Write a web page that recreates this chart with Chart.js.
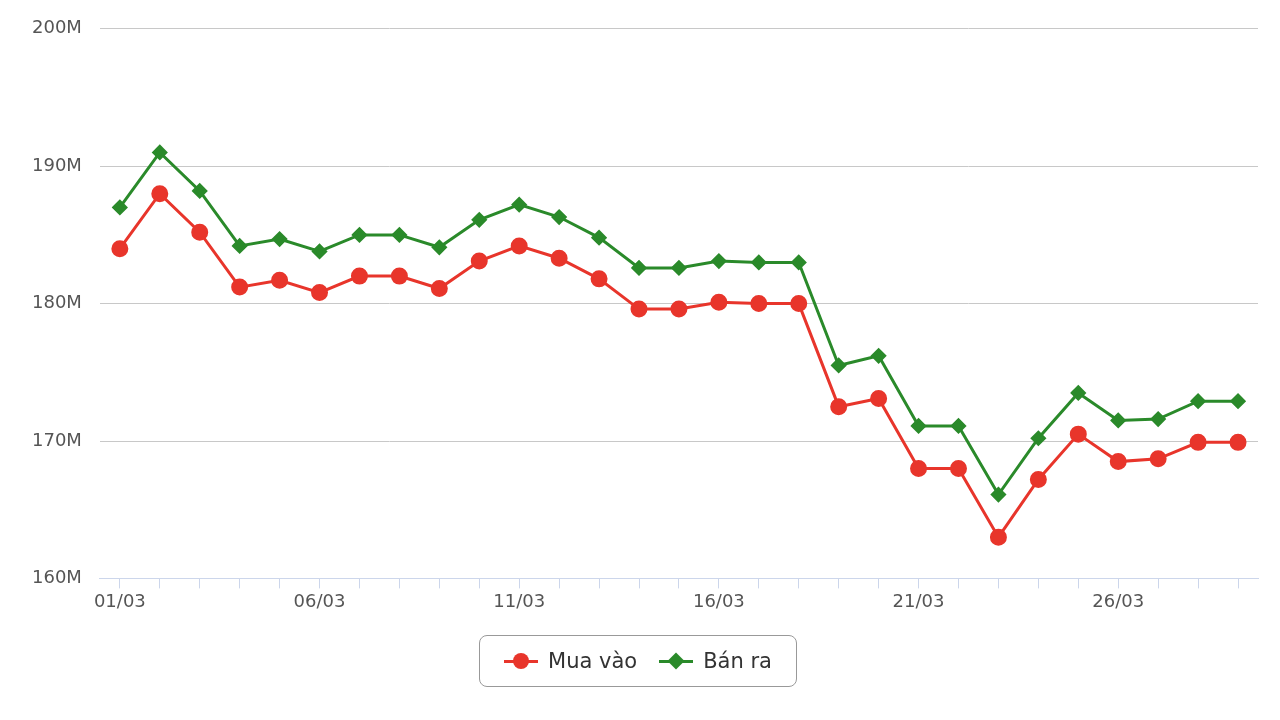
<!DOCTYPE html>
<html><head><meta charset="utf-8">
<script src="https://cdn.jsdelivr.net/npm/chart.js"></script>
<style>body{margin:0;background:#fff;font-family:'DejaVu Sans'}#w{width:1280px;height:720px;position:relative}
#lg{position:absolute;left:479px;top:635px;width:318px;height:52px;border:1.5px solid #999;border-radius:8px;display:flex;align-items:center;justify-content:center;gap:22px;font-size:21px;color:#333;box-sizing:border-box}
.it{display:flex;align-items:center;gap:10px}
.sym{position:relative;width:34px;height:20px}
.sym .ln{position:absolute;left:0;right:0;top:8.5px;height:3px}
.sym .c{position:absolute;left:9px;top:2px;width:16px;height:16px;border-radius:50%}
.sym .d{position:absolute;left:11px;top:4px;width:12px;height:12px;transform:rotate(45deg)}
</style>
</head><body><div id="w"><canvas id="c"></canvas>
<div id="lg"><div class="it"><div class="sym"><div class="ln" style="background:#e8352b"></div><div class="c" style="background:#e8352b"></div></div>Mua vào</div>
<div class="it"><div class="sym"><div class="ln" style="background:#2a8a2a"></div><div class="d" style="background:#2a8a2a"></div></div>Bán ra</div></div></div>
<script>
const days = Array.from({length:29},(_,i)=>String(i+1).padStart(2,'0')+'/03');
const muaVao = [184,188,185.2,181.2,181.7,180.8,182,182,181.1,183.1,184.2,183.3,181.8,179.6,179.6,180.1,180,180,172.5,173.1,168,168,163,167.2,170.5,168.5,168.7,169.9,169.9];
const banRa = [187,191,188.2,184.2,184.7,183.8,185,185,184.1,186.1,187.2,186.3,184.8,182.6,182.6,183.1,183,183,175.5,176.2,171.1,171.1,166.1,170.2,173.5,171.5,171.6,172.9,172.9];
new Chart(document.getElementById('c'),{type:'line',
data:{labels:days,datasets:[
{label:'Mua vào',data:muaVao,borderColor:'#e8352b',backgroundColor:'#e8352b',borderWidth:3,pointRadius:7,pointHoverRadius:7,tension:0},
{label:'Bán ra',data:banRa,borderColor:'#2a8a2a',backgroundColor:'#2a8a2a',borderWidth:3,pointStyle:'rectRot',pointRadius:6,pointHoverRadius:6,tension:0}]},
options:{responsive:true,maintainAspectRatio:false,animation:false,
layout:{padding:{left:14,right:22,top:0,bottom:104}},
plugins:{tooltip:{enabled:false},legend:{display:false}},
scales:{
x:{offset:true,grid:{drawOnChartArea:false,tickLength:10,color:'#ccd6eb'},border:{color:'#ccd6eb'},
ticks:{autoSkip:false,maxRotation:0,font:{size:18,family:'DejaVu Sans'},color:'#555',callback:(v,i)=>i%5===0?days[i]:''}},
y:{min:160,max:200,grid:{color:'#c8c8c8',drawTicks:false},border:{display:false},
ticks:{stepSize:10,padding:18,font:{size:18,family:'DejaVu Sans'},color:'#555',callback:v=>v+'M'}}}}});
</script></body></html>
